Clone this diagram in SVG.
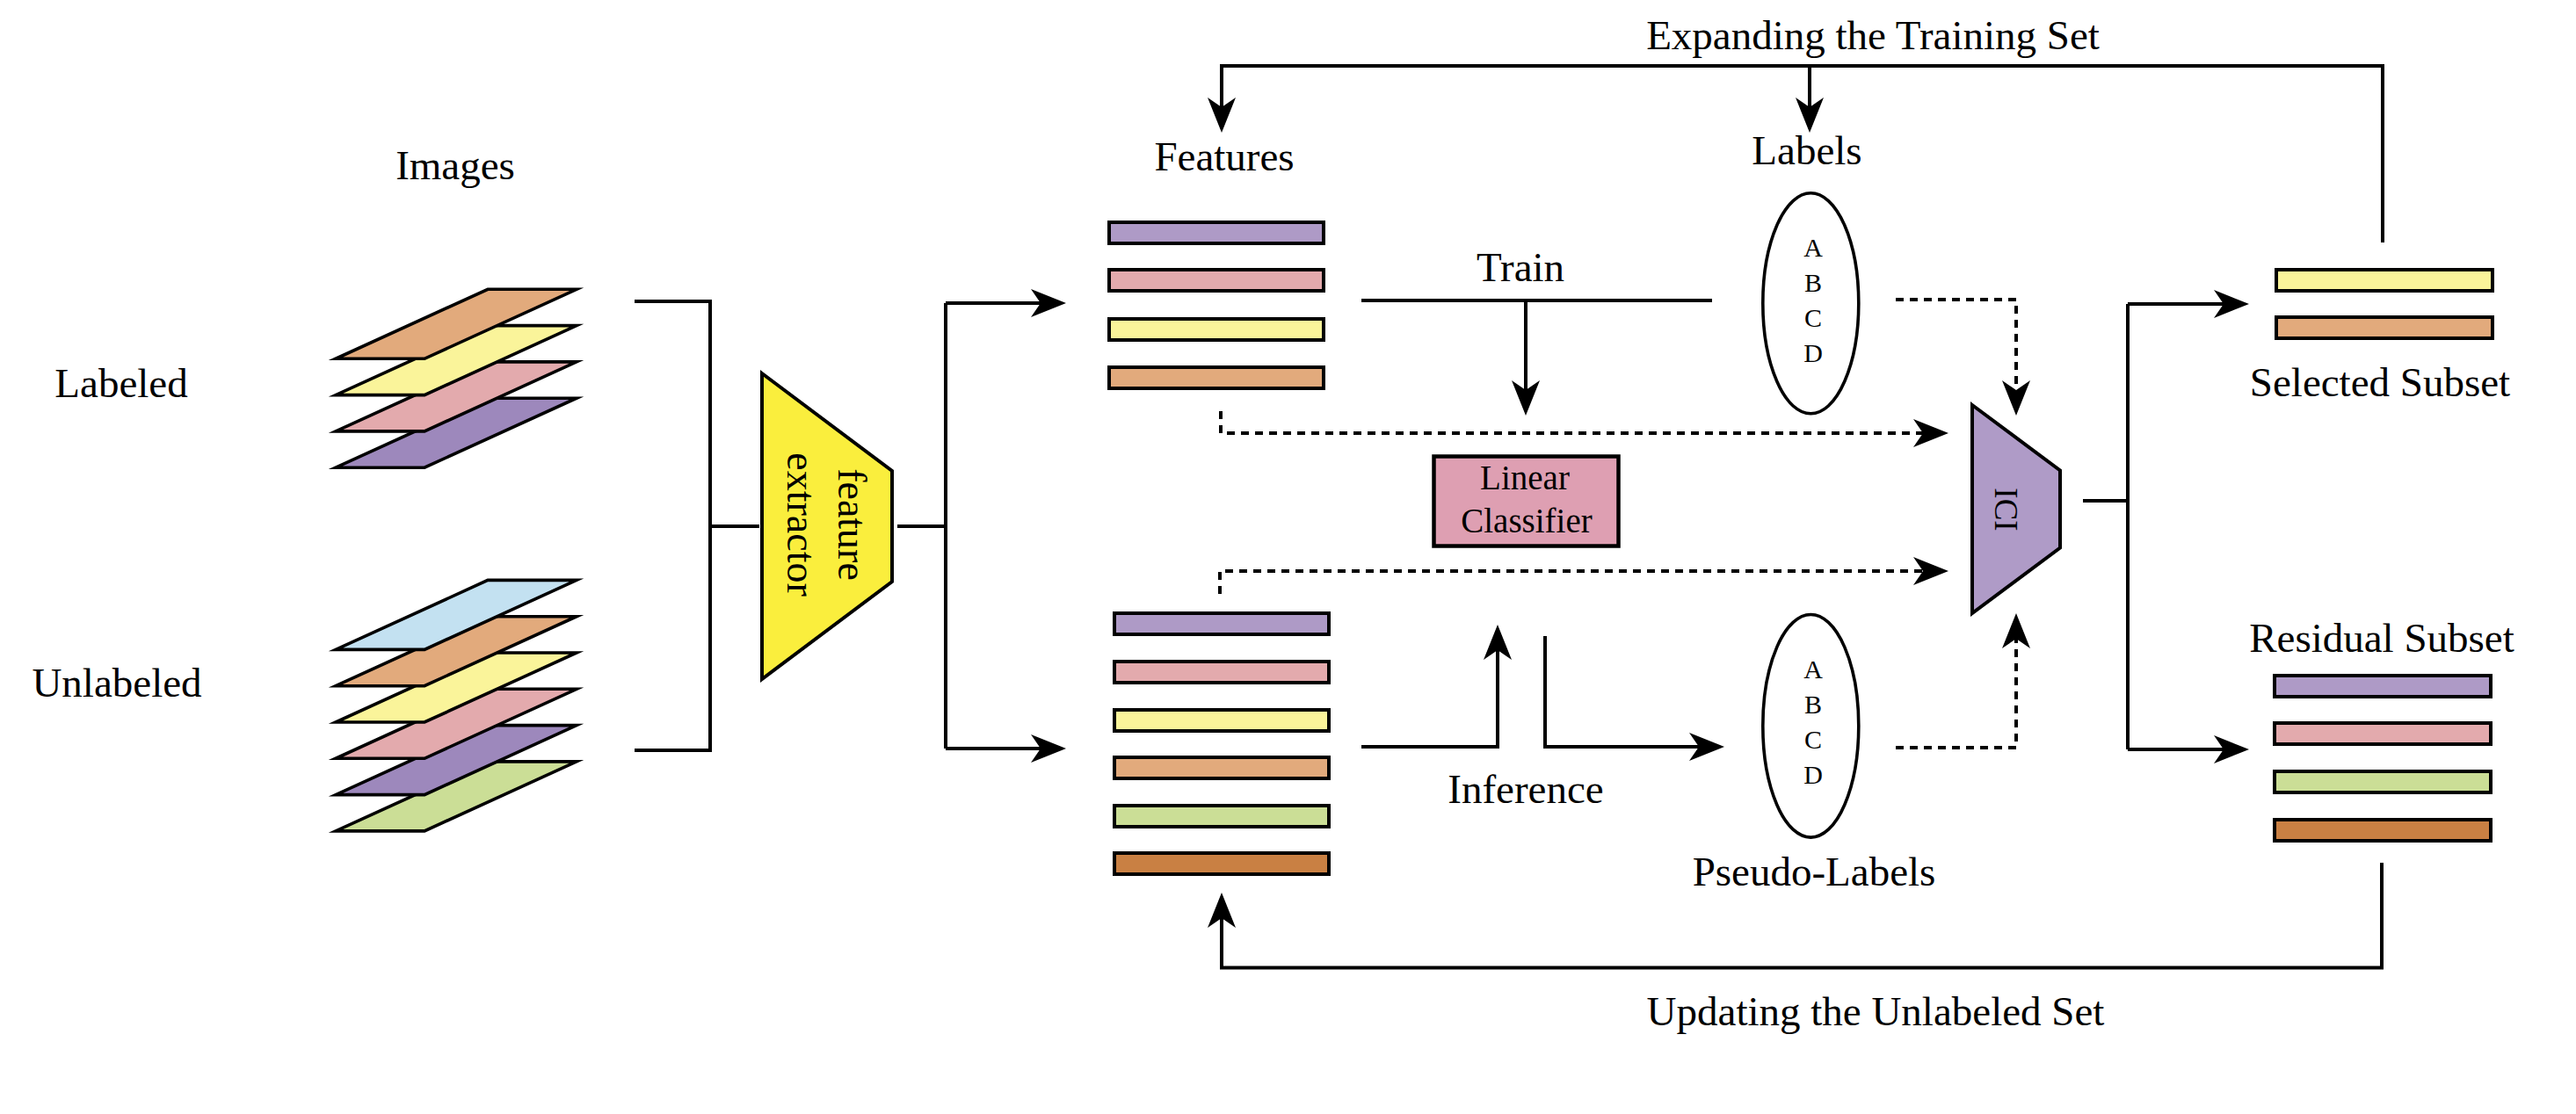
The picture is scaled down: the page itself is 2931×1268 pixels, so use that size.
<svg xmlns="http://www.w3.org/2000/svg" width="2931" height="1268" viewBox="0 0 2931 1268">
<style>
text{font-family:"Liberation Serif","Times New Roman",serif;fill:#000;}
.lbl{font-size:47px;text-anchor:middle;}
.abcd{font-size:30px;text-anchor:middle;}
.para{stroke:#000;stroke-width:3.6;stroke-linejoin:miter;stroke-miterlimit:10;}
.bar{stroke:#000;stroke-width:4;}
.ln{fill:none;stroke:#000;stroke-width:4;}
.dash{fill:none;stroke:#000;stroke-width:4;stroke-dasharray:9 7;}
.purpleP{fill:#9D88BC;}.pink{fill:#E3AAAD;}.yellow{fill:#FAF49A;}.orange{fill:#E2AA7C;}
.blue{fill:#C3E1F1;}.green{fill:#CBDE96;}.purple{fill:#AE9AC6;}.dorange{fill:#C98043;}
</style>
<defs>
<marker id="arr" markerUnits="userSpaceOnUse" viewBox="0 0 40 32" refX="30" refY="16" markerWidth="40" markerHeight="32" orient="auto">
<path d="M0,0 L40,16 L0,32 L11,16 Z" fill="#000"/>
</marker>
</defs>
<rect width="2931" height="1268" fill="#fff"/>

<g id="images-label"><text class="lbl" x="518" y="204">Images</text></g>
<g id="labeled-label"><text class="lbl" x="138" y="452">Labeled</text></g>
<g id="unlabeled-label"><text class="lbl" x="133" y="793">Unlabeled</text></g>

<g id="labeled-images">
<polygon class="para purpleP" points="555,453.2 656,453.2 483,532.2 382,532.2"/>
<polygon class="para pink" points="555,411.9 656,411.9 483,490.9 382,490.9"/>
<polygon class="para yellow" points="555,370.6 656,370.6 483,449.6 382,449.6"/>
<polygon class="para orange" points="555,329.3 656,329.3 483,408.3 382,408.3"/>
</g>

<g id="unlabeled-images">
<polygon class="para green" points="555,866.9 656,866.9 483,945.9 382,945.9"/>
<polygon class="para purpleP" points="555,825.6 656,825.6 483,904.6 382,904.6"/>
<polygon class="para pink" points="555,784.3 656,784.3 483,863.3 382,863.3"/>
<polygon class="para yellow" points="555,743 656,743 483,822 382,822"/>
<polygon class="para orange" points="555,701.7 656,701.7 483,780.7 382,780.7"/>
<polygon class="para blue" points="555,660.4 656,660.4 483,739.4 382,739.4"/>
</g>

<g id="feature-extractor">
<polygon points="867,425 1015,536 1015,662 867,773" fill="#FAEE3D" stroke="#000" stroke-width="4"/>
<text transform="translate(925,597) rotate(90)" style="font-size:46px;text-anchor:middle"><tspan x="0" y="-29">feature</tspan><tspan x="0" y="29">extractor</tspan></text>
</g>

<g id="features-labeled">
<text class="lbl" x="1393" y="194">Features</text>
<rect class="bar purple" x="1262" y="253" width="244" height="24"/>
<rect class="bar pink" x="1262" y="307" width="244" height="24"/>
<rect class="bar yellow" x="1262" y="363" width="244" height="24"/>
<rect class="bar orange" x="1262" y="418" width="244" height="24"/>
</g>

<g id="features-unlabeled">
<rect class="bar purple" x="1268" y="698" width="244" height="24"/>
<rect class="bar pink" x="1268" y="753" width="244" height="24"/>
<rect class="bar yellow" x="1268" y="808" width="244" height="24"/>
<rect class="bar orange" x="1268" y="862" width="244" height="24"/>
<rect class="bar green" x="1268" y="917" width="244" height="24"/>
<rect class="bar dorange" x="1268" y="971" width="244" height="24"/>
</g>

<g id="linear-classifier">
<rect x="1631.5" y="519.5" width="210" height="102" fill="#DE9FB2" stroke="#000" stroke-width="4.5"/>
<text x="1735" y="557" style="font-size:39px;text-anchor:middle">Linear</text>
<text x="1737" y="606" style="font-size:39px;text-anchor:middle">Classifier</text>
</g>

<g id="labels">
<text class="lbl" x="2056" y="187">Labels</text>
<ellipse cx="2060.3" cy="345.3" rx="54.5" ry="125.5" fill="#fff" stroke="#000" stroke-width="3.6"/>
<text class="abcd" x="2063" y="292">A</text>
<text class="abcd" x="2063" y="332">B</text>
<text class="abcd" x="2063" y="372">C</text>
<text class="abcd" x="2063" y="412">D</text>
</g>

<g id="pseudo-labels">
<ellipse cx="2060.3" cy="826.3" rx="54.5" ry="126.8" fill="#fff" stroke="#000" stroke-width="3.6"/>
<text class="abcd" x="2063" y="772">A</text>
<text class="abcd" x="2063" y="812">B</text>
<text class="abcd" x="2063" y="852">C</text>
<text class="abcd" x="2063" y="892">D</text>
<text class="lbl" x="2064" y="1008">Pseudo-Labels</text>
</g>

<g id="ici">
<polygon points="2244,461 2344,535.5 2344,623.5 2244,698" fill="#AF9BC7" stroke="#000" stroke-width="4"/>
<text transform="translate(2270,580) rotate(90)" style="font-size:37px;text-anchor:middle" x="0" y="0">ICI</text>
</g>

<g id="selected-subset">
<rect class="bar yellow" x="2590" y="307" width="246" height="24"/>
<rect class="bar orange" x="2590" y="361" width="246" height="24"/>
<text class="lbl" x="2708" y="451">Selected Subset</text>
</g>

<g id="residual-subset">
<text class="lbl" x="2710" y="742">Residual Subset</text>
<rect class="bar purple" x="2588" y="769" width="246" height="24"/>
<rect class="bar pink" x="2588" y="823" width="246" height="24"/>
<rect class="bar green" x="2588" y="878" width="246" height="24"/>
<rect class="bar dorange" x="2588" y="933" width="246" height="24"/>
</g>

<g id="edge-labels">
<text class="lbl" x="2131" y="56">Expanding the Training Set</text>
<text class="lbl" x="1730" y="320">Train</text>
<text class="lbl" x="1736" y="914">Inference</text>
<text class="lbl" x="2134" y="1167">Updating the Unlabeled Set</text>
</g>

<g id="connectors">
<path class="ln" d="M722,343 H808 V854 H722"/>
<path class="ln" d="M808,599 H864"/>
<path class="ln" d="M1021,599 H1076"/>
<path class="ln" d="M1076,345 V852"/>
<path class="ln" d="M1076,345 H1203" marker-end="url(#arr)"/>
<path class="ln" d="M1076,852 H1203" marker-end="url(#arr)"/>
<path class="ln" d="M1549,342 H1948"/>
<path class="ln" d="M1736,342 V463" marker-end="url(#arr)"/>
<path class="ln" d="M1549,850 H1704 V721" marker-end="url(#arr)"/>
<path class="ln" d="M1758,724 V850 H1952" marker-end="url(#arr)"/>
<path class="dash" d="M1389,468 V493 H2207" marker-end="url(#arr)"/>
<path class="dash" d="M1388,676 V650 H2207" marker-end="url(#arr)"/>
<path class="dash" d="M2157,341 H2294 V463" marker-end="url(#arr)"/>
<path class="dash" d="M2157,851 H2294 V708" marker-end="url(#arr)"/>
<path class="ln" d="M2370,570 H2421"/>
<path class="ln" d="M2421,346 V853"/>
<path class="ln" d="M2421,346 H2549" marker-end="url(#arr)"/>
<path class="ln" d="M2421,853 H2549" marker-end="url(#arr)"/>
<path class="ln" d="M2711,276 V75 H1390 V141" marker-end="url(#arr)"/>
<path class="ln" d="M2059,75 V141" marker-end="url(#arr)"/>
<path class="ln" d="M2710,982 V1101.5 H1390 V1026" marker-end="url(#arr)"/>
</g>
</svg>
